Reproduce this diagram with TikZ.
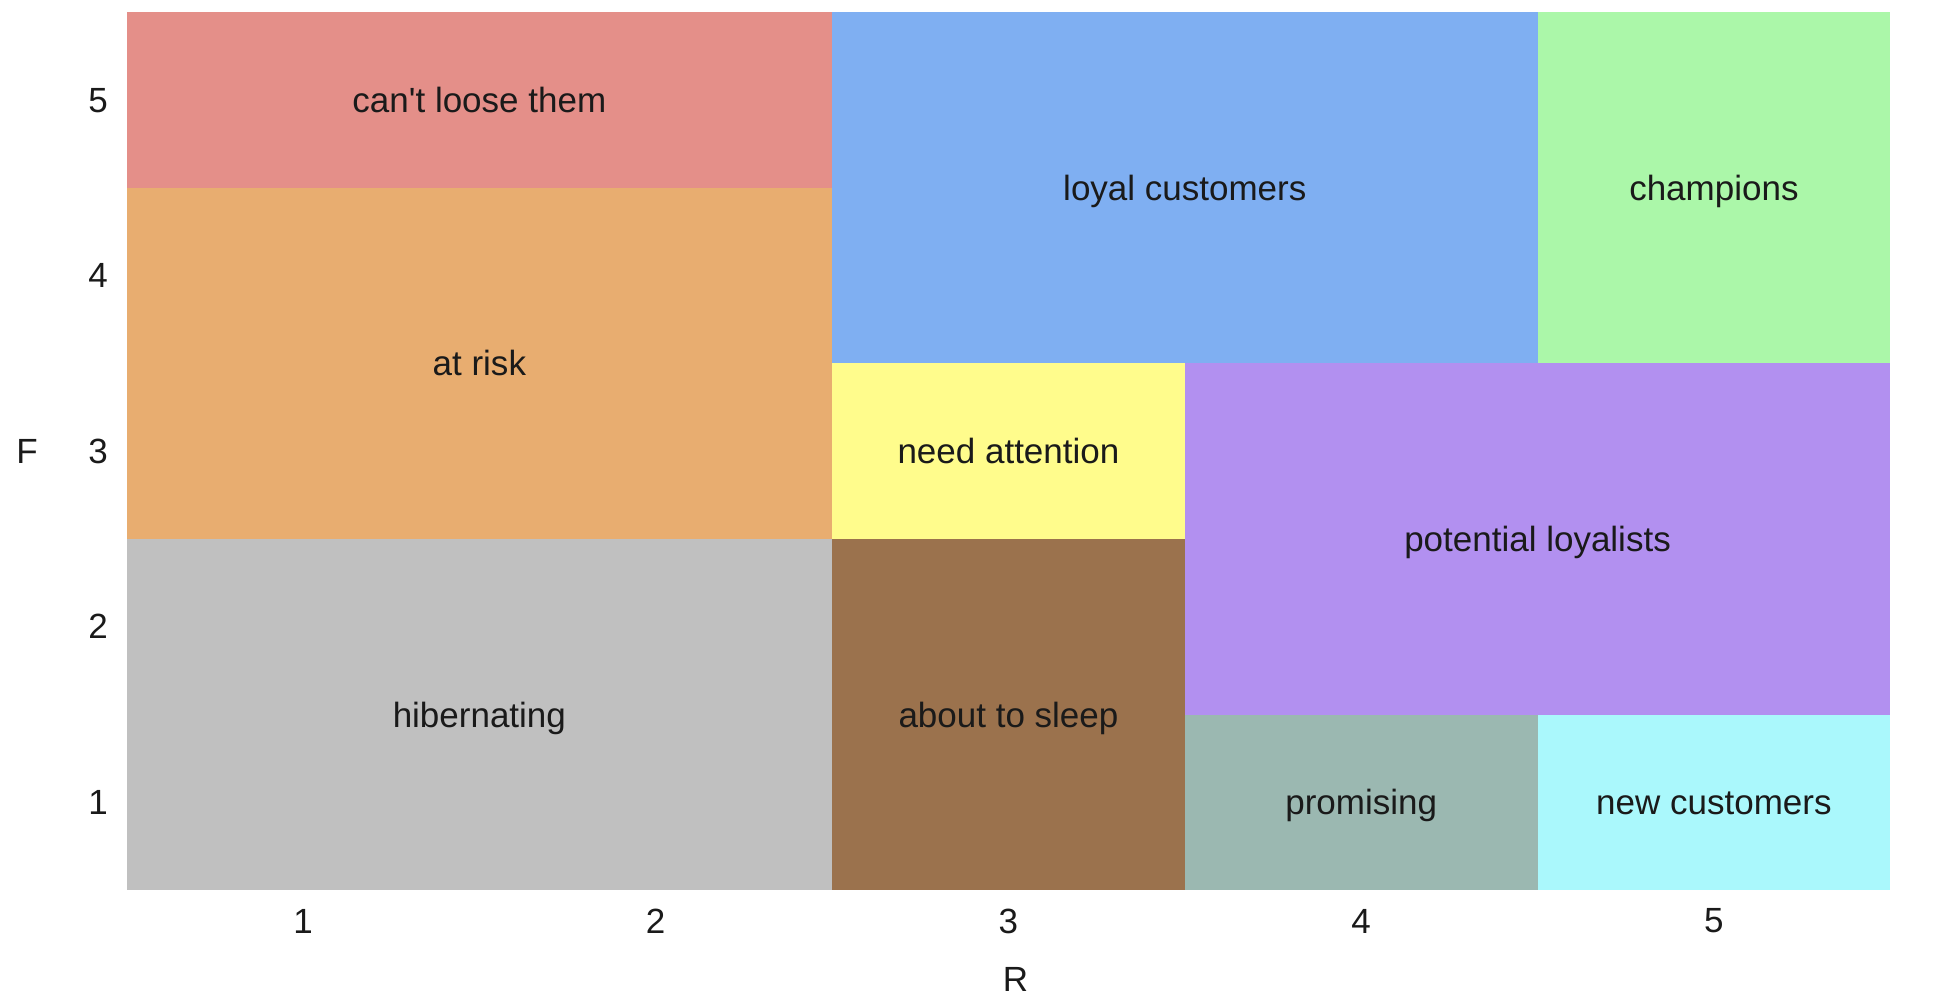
\documentclass[tikz,border=0pt]{standalone}
\usepackage{fontspec}
\setmainfont{Liberation Sans}
\usepackage{tikz}
\definecolor{cantred}{RGB}{228,143,137}
\definecolor{riskorange}{RGB}{232,173,112}
\definecolor{hibgray}{RGB}{192,192,192}
\definecolor{loyalblue}{RGB}{127,175,242}
\definecolor{champgreen}{RGB}{171,247,169}
\definecolor{needyellow}{RGB}{255,252,140}
\definecolor{sleepbrown}{RGB}{155,114,77}
\definecolor{potpurple}{RGB}{178,144,240}
\definecolor{promgray}{RGB}{155,184,177}
\definecolor{newcyan}{RGB}{170,248,252}
\definecolor{labelink}{RGB}{26,26,26}

\begin{document}
\begin{tikzpicture}[x=352.7pt, y=175.5pt,
  seglabel/.style={text=labelink, font=\fontsize{35}{42}\selectfont, inner sep=0pt,
    text height=25pt, text depth=0pt},
  ticklabel/.style={text=labelink, font=\fontsize{35}{42}\selectfont, inner sep=0pt}]
  \useasboundingbox (0.141,-0.1154) rectangle (5.658,5.571);

  % segments: left/bottom/right/top/colour/name/text
  \foreach \xa/\ya/\xb/\yb/\col/\nm/\txt in {
      0.5/4.5/2.5/5.5/cantred/cantloose/can\textquotesingle t loose them,
      0.5/2.5/2.5/4.5/riskorange/atrisk/at risk,
      0.5/0.5/2.5/2.5/hibgray/hibernating/hibernating,
      2.5/3.5/4.5/5.5/loyalblue/loyal/loyal customers,
      4.5/3.5/5.5/5.5/champgreen/champions/champions,
      2.5/2.5/3.5/3.5/needyellow/needatt/need attention,
      2.5/0.5/3.5/2.5/sleepbrown/aboutsleep/about to sleep,
      3.5/1.5/5.5/3.5/potpurple/potential/potential loyalists,
      3.5/0.5/4.5/1.5/promgray/promising/promising,
      4.5/0.5/5.5/1.5/newcyan/newcust/new customers} {
    \fill[\col] (\xa,\ya) rectangle (\xb,\yb);
    \node[seglabel] (\nm) at ({(\xa+\xb)/2},{(\ya+\yb)/2}) {\txt};
  }

  % axis ticks
  \foreach \i in {1,...,5} {
    \node[ticklabel] (rtick\i) at (\i,0.323) {\i};
    \node[ticklabel] (ftick\i) at (0.419,\i) {\i};
  }
  \node[ticklabel] (raxis) at (3.02,-0.007) {R};
  \node[ticklabel] (faxis) at (0.218,3) {F};
\end{tikzpicture}
\end{document}
